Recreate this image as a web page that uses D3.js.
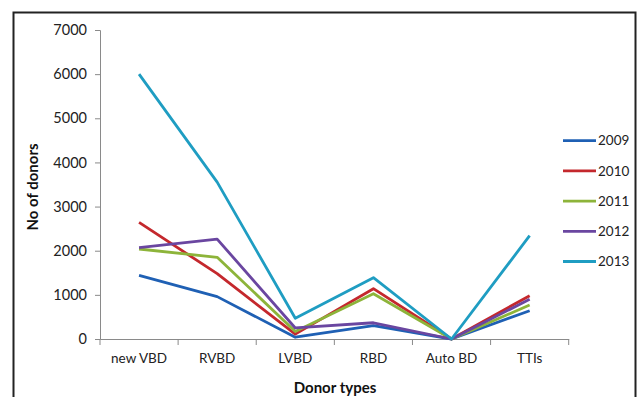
<!DOCTYPE html>
<html><head><meta charset="utf-8">
<script src="https://cdn.jsdelivr.net/npm/d3@7"></script>
<style>body{margin:0;background:#fff}svg{display:block}text{font-family:Lato,"Open Sans",sans-serif}</style>
</head><body><svg id="c" width="638" height="397"></svg>
<script>
const categories = ["new VBD","RVBD","LVBD","RBD","Auto BD","TTIs"];
const years = ["2009","2010","2011","2012","2013"];
const v2009 = [1443, 960, 40, 305, 0, 641];
const v2010 = [2643, 1480, 110, 1140, 0, 981];
const v2011 = [2039, 1850, 170, 1025, 0, 770];
const v2012 = [2068, 2262, 250, 368, 0, 899];
const v2013 = [6000, 3555, 470, 1390, 0, 2340];
const colors = ["#1f60b4","#c4282d","#8db43a","#6a46a0","#1f9dc2"];
const yTicks = [0,1000,2000,3000,4000,5000,6000,7000];
const series = [v2009,v2010,v2011,v2012,v2013];

const svg = d3.select("#c");
// frame
svg.append("rect").attr("x",13.5).attr("y",12.5).attr("width",622).attr("height",400)
  .attr("fill","none").attr("stroke","#222").attr("stroke-width",2);

const x = d3.scaleBand().domain(categories).range([100,568.7]).paddingInner(0).paddingOuter(0);
const y = d3.scaleLinear().domain([0,7000]).range([339,30]);

// y axis
const ya = svg.append("g").attr("transform","translate(100,0)")
  .call(d3.axisLeft(y).tickValues(yTicks).tickSize(5).tickPadding(8).tickFormat(d3.format("d")));
ya.select(".domain").attr("stroke","#8a8a8a");
ya.selectAll(".tick line").attr("stroke","#8a8a8a");
ya.selectAll("text").attr("font-size",14.5).attr("fill","#222");

// x axis
const xa = svg.append("g").attr("transform","translate(0,339)")
  .call(d3.axisBottom(x).tickSize(0).tickPadding(14).tickSizeOuter(0));
xa.select(".domain").attr("stroke","#8a8a8a");
xa.selectAll("text").attr("font-size",13.5).attr("fill","#222");
const edges = categories.map(c => x(c)).concat([x(categories[categories.length-1]) + x.bandwidth()]);
svg.append("g").selectAll("line").data(edges).join("line")
  .attr("x1",d=>d).attr("x2",d=>d).attr("y1",339).attr("y2",345).attr("stroke","#8a8a8a");

// lines
const line = d3.line().x((d,i)=>x(categories[i])+x.bandwidth()/2).y(d=>y(d));
svg.append("g").selectAll("path").data(series).join("path")
  .attr("d",line).attr("fill","none").attr("stroke",(d,i)=>colors[i])
  .attr("stroke-width",2.8).attr("stroke-linejoin","round");

// legend
const lg = svg.append("g").selectAll("g").data(years).join("g")
  .attr("transform",(d,i)=>`translate(563,${140.7+i*30.2})`);
lg.append("line").attr("x1",0).attr("x2",33).attr("stroke",(d,i)=>colors[i]).attr("stroke-width",2.8);
lg.append("text").attr("x",35).attr("dy","0.35em").attr("font-size",13.5).attr("fill","#222").text(d=>d);

// titles
svg.append("text").attr("transform","translate(38,187) rotate(-90)").attr("text-anchor","middle")
  .attr("font-size",15).attr("font-weight","bold").attr("fill","#111").text("No of donors");
svg.append("text").attr("x",335).attr("y",393).attr("text-anchor","middle")
  .attr("font-size",15).attr("font-weight","bold").attr("fill","#111").text("Donor types");
</script></body></html>
